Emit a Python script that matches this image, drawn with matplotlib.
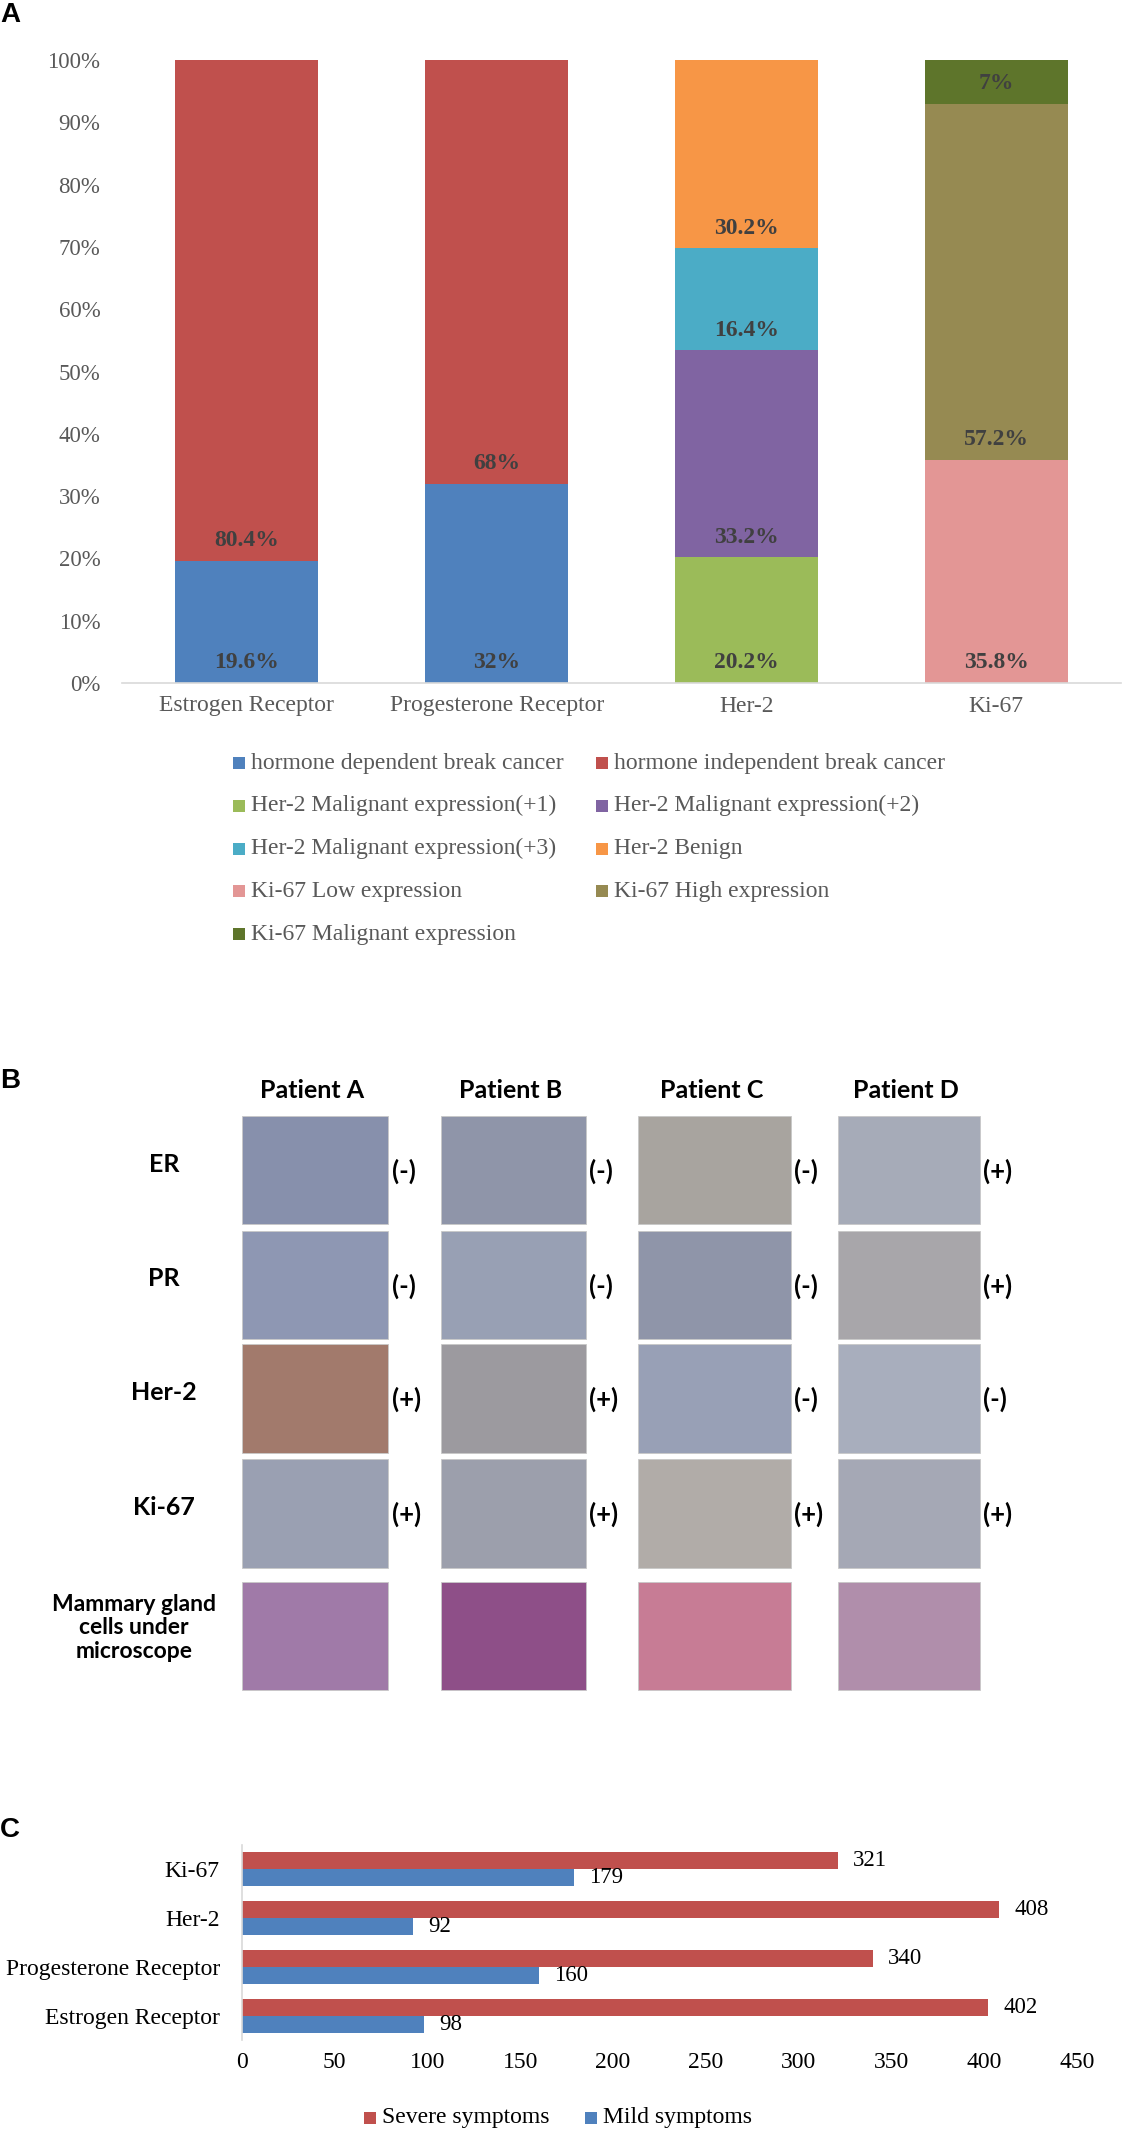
import matplotlib
matplotlib.use('Agg')
import matplotlib.pyplot as plt
from matplotlib.patches import Rectangle
import numpy as np

# ---------------- data ----------------
# Panel A: stacked percentage bars
categories_A = ['Estrogen Receptor', 'Progesterone Receptor', 'Her-2', 'Ki-67']
hormone_dependent = [19.6, 32, 0, 0]
hormone_independent = [80.4, 68, 0, 0]
her2_plus1 = [0, 0, 20.2, 0]
her2_plus2 = [0, 0, 33.2, 0]
her2_plus3 = [0, 0, 16.4, 0]
her2_benign = [0, 0, 30.2, 0]
ki67_low = [0, 0, 0, 35.8]
ki67_high = [0, 0, 0, 57.2]
ki67_malignant = [0, 0, 0, 7]
series_names_A = ['hormone dependent break cancer', 'hormone independent break cancer',
                  'Her-2 Malignant expression(+1)', 'Her-2 Malignant expression(+2)',
                  'Her-2 Malignant expression(+3)', 'Her-2 Benign',
                  'Ki-67 Low expression', 'Ki-67 High expression',
                  'Ki-67 Malignant expression']
series_values_A = [hormone_dependent, hormone_independent, her2_plus1, her2_plus2,
                   her2_plus3, her2_benign, ki67_low, ki67_high, ki67_malignant]
series_colors_A = ['#4F81BD', '#C0504D', '#9BBB59', '#8064A2', '#4BACC6',
                   '#F79646', '#E39695', '#968A52', '#5E752B']
yticks_A = [0, 10, 20, 30, 40, 50, 60, 70, 80, 90, 100]

# Panel B: immunohistochemistry grid
patients = ['Patient A', 'Patient B', 'Patient C', 'Patient D']
ihc_markers = ['ER', 'PR', 'Her-2', 'Ki-67']
ihc_results = [['-', '-', '-', '+'],
               ['-', '-', '-', '+'],
               ['+', '+', '-', '-'],
               ['+', '+', '+', '+']]
he_label = 'Mammary gland\ncells under\nmicroscope'
tile_colors = [['#8790AC', '#8F95A9', '#A8A49F', '#A6ABB8'],
               ['#8E97B3', '#98A0B4', '#8F95A9', '#A8A6AA'],
               ['#A27A6C', '#9C9A9F', '#98A0B6', '#A8AEBD'],
               ['#9AA0B2', '#9C9FAC', '#B1ACA8', '#A5A8B5'],
               ['#A07AA8', '#8E4F88', '#C77C95', '#B08EAB']]

# Panel C: horizontal grouped bars
categories_C = ['Estrogen Receptor', 'Progesterone Receptor', 'Her-2', 'Ki-67']
severe = [402, 340, 408, 321]
mild = [98, 160, 92, 179]
xticks_C = [0, 50, 100, 150, 200, 250, 300, 350, 400, 450]

# ---------------- figure ----------------
W, H = 1122, 2132
DPI = 100
fig = plt.figure(figsize=(W / DPI, H / DPI), dpi=DPI)
fig.patch.set_facecolor('white')

SERIF = ['Liberation Serif', 'DejaVu Serif']
SANS = ['Lato', 'DejaVu Sans']
ARIAL = ['Liberation Sans', 'DejaVu Sans']
GRAY = '#595959'


def rect(x0, y0, x1, y1):
    return [x0 / W, 1 - y1 / H, (x1 - x0) / W, (y1 - y0) / H]


# overlay axes in pixel coordinates (for panel letters, legends, panel B)
ov = fig.add_axes([0, 0, 1, 1])
ov.set_xlim(0, W)
ov.set_ylim(H, 0)
ov.axis('off')
ov.patch.set_alpha(0)

for letter, y in [('A', 15), ('B', 1081), ('C', 1830)]:
    ov.text(0, y, letter, family=ARIAL, fontweight='bold', fontsize=20,
            ha='left', va='center', color='black')

# ---------------- Panel A ----------------
axA = fig.add_axes(rect(122, 60, 1121, 683))
x = np.arange(len(categories_A))
bottom = np.zeros(len(categories_A))
for vals, col in zip(series_values_A, series_colors_A):
    vals = np.array(vals, dtype=float)
    axA.bar(x, vals, bottom=bottom, width=0.572, color=col, edgecolor='none')
    for xi, v, b in zip(x, vals, bottom):
        if v > 0:
            axA.annotate(f'{v:g}%', xy=(xi, b), xytext=(0, 14.5),
                         textcoords='offset points', ha='center', va='center',
                         family=SERIF, fontweight='bold', fontsize=17,
                         color='#404040')
    bottom = bottom + vals
axA.set_xlim(-0.5, len(categories_A) - 0.5)
axA.set_ylim(0, 100)
axA.set_yticks(yticks_A)
axA.set_yticklabels([f'{t}%' for t in yticks_A], family=SERIF, fontsize=16.5, color=GRAY)
axA.set_xticks(x)
axA.set_xticklabels(categories_A, family=SERIF, fontsize=17, color=GRAY)
axA.tick_params(axis='y', length=0, pad=15.5)
axA.tick_params(axis='x', length=0, pad=9)
for s in ['top', 'right', 'left']:
    axA.spines[s].set_visible(False)
axA.spines['bottom'].set_color('#D9D9D9')
axA.spines['bottom'].set_linewidth(1.2)

# legend A (two columns, row-wise order)
for i, (name, col) in enumerate(zip(series_names_A, series_colors_A)):
    r, c = divmod(i, 2)
    mx = 233 + 363 * c
    my = 763 + 42.8 * r
    ov.add_patch(Rectangle((mx, my - 6), 12, 12, color=col, lw=0))
    ov.text(mx + 18, my, name, family=SERIF, fontsize=17, color=GRAY,
            ha='left', va='center')

# ---------------- Panel B ----------------
col_x = [(242, 388), (441, 586), (638, 791), (838, 980)]
row_y = [(1116, 1224), (1231, 1339), (1344, 1453), (1459, 1568), (1582, 1690)]
sign_x = [392, 589, 794, 983]

for j, p in enumerate(patients):
    cx = (col_x[j][0] + col_x[j][1]) / 2 - 3
    ov.text(cx, 1090, p, family=SANS, fontweight='bold', fontsize=18,
            ha='center', va='center', color='black')

for i in range(5):
    y0, y1 = row_y[i]
    for j in range(4):
        x0, x1 = col_x[j]
        ov.add_patch(Rectangle((x0, y0), x1 - x0, y1 - y0,
                               facecolor=tile_colors[i][j], edgecolor='#C8C8C8', lw=0.6))
    if i < 4:
        ov.text(164, (y0 + y1) / 2 - 6, ihc_markers[i], family=SANS, fontweight='bold',
                fontsize=18, ha='center', va='center', color='black')
        for j in range(4):
            ov.text(sign_x[j], (y0 + y1) / 2 + 1, f'({ihc_results[i][j]})',
                    family=SANS, fontweight='bold', fontsize=18.5,
                    ha='left', va='center', color='black')
    else:
        ov.text(134, 1628, he_label, family=SANS, fontweight='bold', fontsize=16.5,
                ha='center', va='center', color='black', linespacing=1.12)

# ---------------- Panel C ----------------
axC = fig.add_axes(rect(242, 1845, 1077, 2040))
y = np.arange(len(categories_C))
bh = 0.35
axC.barh(y + bh / 2, severe, height=bh, color='#C0504D', edgecolor='none')
axC.barh(y - bh / 2, mild, height=bh, color='#4F81BD', edgecolor='none')
for yi, v in zip(y, severe):
    axC.annotate(str(v), xy=(v, yi + bh / 2), xytext=(11, 0), textcoords='offset points',
                 ha='left', va='center', family=SERIF, fontsize=16.5, color='black')
for yi, v in zip(y, mild):
    axC.annotate(str(v), xy=(v, yi - bh / 2), xytext=(11, 0), textcoords='offset points',
                 ha='left', va='center', family=SERIF, fontsize=16.5, color='black')
axC.set_xlim(0, 450)
axC.set_ylim(-0.5, len(categories_C) - 0.5)
axC.set_xticks(xticks_C)
axC.set_xticklabels([str(t) for t in xticks_C], family=SERIF, fontsize=17, color='black')
axC.set_yticks(y)
axC.set_yticklabels(categories_C, family=SERIF, fontsize=17, color='black')
axC.tick_params(axis='y', length=0, pad=16)
axC.tick_params(axis='x', length=0, pad=9)
for s in ['top', 'right', 'bottom']:
    axC.spines[s].set_visible(False)
axC.spines['left'].set_color('#D9D9D9')
axC.spines['left'].set_linewidth(1.2)

# legend C
for mx, name, col in [(364, 'Severe symptoms', '#C0504D'), (585, 'Mild symptoms', '#4F81BD')]:
    ov.add_patch(Rectangle((mx, 2118 - 6), 12, 12, color=col, lw=0))
    ov.text(mx + 18, 2118, name, family=SERIF, fontsize=17, color='black',
            ha='left', va='center')

fig.savefig('out.png', dpi=DPI)
